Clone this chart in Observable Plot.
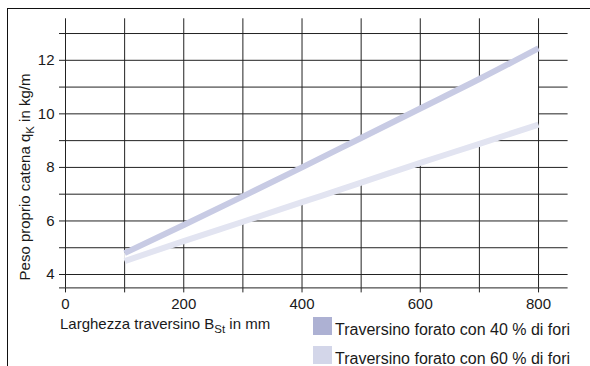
<!DOCTYPE html>
<html>
<head>
<meta charset="utf-8">
<script src="https://cdn.jsdelivr.net/npm/d3@7"></script>
<script src="https://cdn.jsdelivr.net/npm/@observablehq/plot@0.6"></script>
<style>
  html, body { margin: 0; padding: 0; background: #fff; }
  #wrap { position: relative; width: 590px; height: 366px; overflow: hidden; font-family: "Liberation Sans", Arial, sans-serif; }
  #frame { position: absolute; left: 7px; top: 8px; width: 600px; height: 400px; border-top: 1.5px solid #111; border-left: 1.5px solid #111; box-sizing: border-box; pointer-events: none; }
</style>
</head>
<body>
<div id="wrap">
  <div id="chart"></div>
  <div id="frame"></div>
</div>
<script>
// ---- data ----
const widths = [100, 200, 300, 400, 500, 600, 700, 800];
const weight40 = [4.8, 5.85, 6.92, 8.0, 9.1, 10.2, 11.3, 12.45];
const weight60 = [4.5, 5.25, 5.97, 6.7, 7.43, 8.17, 8.88, 9.6];
const xTicks = [0, 100, 200, 300, 400, 500, 600, 700, 800];
const xLabelTicks = [0, 200, 400, 600, 800];
const yLines = [3.5, 4, 5, 6, 7, 8, 9, 10, 11, 12, 13];
const yLabelTicks = [4, 6, 8, 10, 12];
const seriesNames = ["Traversino forato con 40 % di fori", "Traversino forato con 60 % di fori"];
const lineColors = ["#c8cbe4", "#e2e4f1"];
const swatchColors = ["#adb1d3", "#d3d6e9"];

const rows = widths.map((w, i) => ({w, a: weight40[i], b: weight60[i]}));

const plot = Plot.plot({
  width: 590,
  height: 366,
  marginLeft: 65,
  marginRight: 22.4,
  marginTop: 18.3,
  marginBottom: 78.6,
  style: {fontFamily: "'Liberation Sans', Arial, sans-serif", fontSize: "15px", color: "#1a1a1a", background: "transparent", overflow: "visible"},
  x: {domain: [0, 850]},
  y: {domain: [3.5, 13.55]},
  marks: [
    Plot.gridX({ticks: xTicks, stroke: "#222", strokeOpacity: 1, strokeWidth: 1}),
    Plot.gridY({ticks: yLines, stroke: "#222", strokeOpacity: 1, strokeWidth: 1}),
    Plot.axisX({ticks: xTicks, tickSize: 5, tickPadding: 5, stroke: "#222", label: null,
      tickFormat: d => xLabelTicks.includes(d) ? String(d) : ""}),
    Plot.axisY({ticks: yLines, tickSize: 6, tickPadding: 5, stroke: "#222", label: null,
      tickFormat: d => yLabelTicks.includes(d) ? String(d) : ""}),
    Plot.areaY(rows, {x: "w", y1: "b", y2: "a", fill: "white", curve: "monotone-x"}),
    Plot.line(rows, {x: "w", y: "a", stroke: lineColors[0], strokeWidth: 6, strokeLinecap: "butt", curve: "monotone-x"}),
    Plot.line(rows, {x: "w", y: "b", stroke: lineColors[1], strokeWidth: 6, strokeLinecap: "butt", curve: "monotone-x"})
  ]
});
document.getElementById("chart").appendChild(plot);

const svg = d3.select(plot);

// axis titles with subscripts
const xt = svg.append("text")
  .attr("x", 60).attr("y", 329)
  .attr("text-anchor", "start")
  .attr("fill", "#1a1a1a").style("font-size", "15px");
xt.append("tspan").text("Larghezza traversino B");
xt.append("tspan").attr("dy", 3.5).style("font-size", "11.5px").text("St");
xt.append("tspan").attr("dy", -3.5).text(" in mm");

const yt = svg.append("text")
  .attr("transform", "translate(30,177) rotate(-90)")
  .attr("text-anchor", "middle")
  .attr("fill", "#1a1a1a").style("font-size", "15px");
yt.append("tspan").text("Peso proprio catena q");
yt.append("tspan").attr("dy", 3.5).style("font-size", "11.5px").text("K");
yt.append("tspan").attr("dy", -3.5).text(" in kg/m");

// legend
const legTop = [317, 346];
seriesNames.forEach((name, i) => {
  svg.append("rect")
    .attr("x", 313).attr("y", legTop[i]).attr("width", 19).attr("height", 18)
    .attr("fill", swatchColors[i]);
  svg.append("text")
    .attr("x", 335).attr("y", legTop[i] + 18)
    .attr("text-anchor", "start")
    .attr("fill", "#1a1a1a").style("font-size", "16px")
    .text(name);
});
</script>
</body>
</html>
